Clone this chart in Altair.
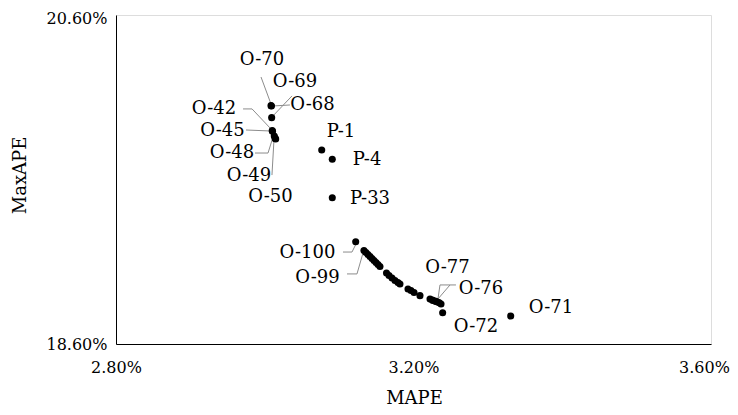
import altair as alt
import pandas as pd

# ---- point data (MAPE %, MaxAPE %) ----
names = ["P-1", "P-4", "P-33",
         "O-70", "O-68", "O-69", "O-42", "O-45", "O-48", "O-49", "O-50",
         "O-100", "O-99", "O-98", "O-97", "O-96", "O-95", "O-94", "O-93", "O-92",
         "O-91", "O-90", "O-89", "O-88", "O-87", "O-86", "O-85", "O-84", "O-83",
         "O-82", "O-81", "O-80", "O-79", "O-78", "O-77", "O-76", "O-75", "O-74",
         "O-73", "O-72", "O-71"]
mape = [3.0766, 3.0908, 3.0908,
        3.0084, 3.0090, 3.0093, 3.0101, 3.0104, 3.0128, 3.0147, 3.0140,
        3.1223, 3.1334, 3.1361, 3.1388, 3.1415, 3.1442, 3.1469, 3.1496, 3.1523,
        3.1549, 3.1637, 3.1671, 3.1711, 3.1751, 3.1791, 3.1818, 3.1926, 3.1966,
        3.2007, 3.2087, 3.2222, 3.2262, 3.2302, 3.2253, 3.2347, 3.2323, 3.2289,
        3.2370, 3.2392, 3.3307]
maxape = [19.779, 19.723, 19.489,
          20.049, 20.047, 19.976, 19.897, 19.893, 19.864, 19.846, 19.850,
          19.222, 19.168, 19.156, 19.144, 19.132, 19.120, 19.108, 19.095, 19.083,
          19.071, 19.032, 19.016, 19.001, 18.986, 18.974, 18.965, 18.934, 18.925,
          18.913, 18.894, 18.874, 18.864, 18.858, 18.867, 18.851, 18.855, 18.861,
          18.843, 18.790, 18.770]

# ---- data labels (text anchor in data units) ----
label_names = ["O-70", "O-69", "O-68", "O-42", "O-45", "O-48", "O-49", "O-50",
               "P-1", "P-4", "P-33", "O-100", "O-99", "O-77", "O-76", "O-72", "O-71"]
label_x = [2.9963, 3.0407, 3.0642, 2.9318, 2.9432, 2.9560, 2.9788, 3.0077,
           3.1025, 3.1375, 3.1415, 3.0575, 3.0709, 3.2457, 3.2907, 3.2840, 3.3849]
label_y = [20.326, 20.193, 20.053, 20.027, 19.895, 19.759, 19.621, 19.495,
           19.891, 19.719, 19.481, 19.151, 19.000, 19.060, 18.933, 18.705, 18.819]

# ---- leader lines (polylines in data units) ----
leader_id = ["O-70", "O-70",
             "O-68", "O-68",
             "O-69", "O-69",
             "O-42", "O-42", "O-42",
             "O-45", "O-45",
             "O-48", "O-48", "O-48",
             "O-49", "O-49",
             "O-100", "O-100", "O-100",
             "O-99", "O-99", "O-99",
             "O-77", "O-77", "O-77",
             "O-76", "O-76", "O-76"]
leader_seq = [0, 1, 0, 1, 0, 1, 0, 1, 2, 0, 1, 0, 1, 2, 0, 1,
              0, 1, 2, 0, 1, 2, 0, 1, 2, 0, 1, 2]
leader_x = [2.9950, 3.0084,
            3.0339, 3.0111,
            3.0366, 3.0097,
            2.9708, 2.9829, 3.0084,
            2.9748, 3.0071,
            2.9869, 3.0044, 3.0111,
            3.0097, 3.0124,
            3.1052, 3.1173, 3.1227,
            3.1106, 3.1240, 3.1321,
            3.2491, 3.2356, 3.2329,
            3.2571, 3.2491, 3.2316]
leader_y = [20.223, 20.059,
            20.053, 20.047,
            20.108, 19.980,
            20.029, 20.029, 19.907,
            19.901, 19.895,
            19.761, 19.761, 19.858,
            19.627, 19.840,
            19.159, 19.159, 19.208,
            19.026, 19.026, 19.153,
            18.959, 18.959, 18.874,
            18.959, 18.959, 18.867]

x_ticks = [2.8, 3.2, 3.6]
y_ticks = [18.6, 20.6]

pts = pd.DataFrame({"name": names, "MAPE": mape, "MaxAPE": maxape})
labs = pd.DataFrame({"name": label_names, "MAPE": label_x, "MaxAPE": label_y})
lead = pd.DataFrame({"id": leader_id, "seq": leader_seq, "MAPE": leader_x, "MaxAPE": leader_y})

FONT = "DejaVu Serif"

xscale = alt.Scale(domain=[2.8, 3.6], nice=False, zero=False)
yscale = alt.Scale(domain=[18.6, 20.6], nice=False, zero=False)

xaxis = alt.Axis(values=x_ticks, labelExpr="format(datum.value, '.2f') + '%'",
                 grid=False, ticks=False, domainColor="#000000", domainWidth=1,
                 labelFont=FONT, labelFontSize=16, labelColor="#000000", labelPadding=15,
                 labelOffset={"condition": {"test": "datum.value > 3.5", "value": -7}, "value": 0},
                 labelFlush=False, title="MAPE", titleFont=FONT, titleFontSize=18,
                 titleFontWeight="normal", titleColor="#000000",
                 titleX=298, titleY=59, titleBaseline="alphabetic", titleAlign="center")
yaxis = alt.Axis(values=y_ticks, labelExpr="format(datum.value, '.2f') + '%'",
                 grid=False, ticks=False, domainColor="#000000", domainWidth=1,
                 labelFont=FONT, labelFontSize=16, labelColor="#000000", labelPadding=9,
                 labelOffset={"condition": {"test": "datum.value > 20.5", "value": 3}, "value": 0},
                 labelFlush=False, title="MaxAPE", titleFont=FONT, titleFontSize=18,
                 titleFontWeight="normal", titleColor="#000000",
                 titleX=-91, titleY=160, titleAngle=-90, titleBaseline="alphabetic",
                 titleAlign="center")

leaders = alt.Chart(lead).mark_line(color="#8c8c8c", strokeWidth=1).encode(
    x=alt.X("MAPE:Q", scale=xscale, axis=xaxis),
    y=alt.Y("MaxAPE:Q", scale=yscale, axis=yaxis),
    detail="id:N",
    order=alt.Order("seq:Q"),
)

points = alt.Chart(pts).mark_circle(color="#000000", opacity=1, size=50).encode(
    x=alt.X("MAPE:Q", scale=xscale),
    y=alt.Y("MaxAPE:Q", scale=yscale),
)

texts = alt.Chart(labs).mark_text(font=FONT, fontSize=18, color="#000000",
                                  align="center", baseline="middle").encode(
    x=alt.X("MAPE:Q", scale=xscale),
    y=alt.Y("MaxAPE:Q", scale=yscale),
    text="name:N",
)

chart = alt.layer(leaders, points, texts).properties(
    width=595, height=329,
    autosize=alt.AutoSizeParams(type="none"),
    padding={"left": 108, "top": 7, "right": 19, "bottom": 63},
).configure_view(stroke=None).configure(background="#ffffff")

chart.save("out.html", embed_options={"renderer": "svg", "actions": False})
